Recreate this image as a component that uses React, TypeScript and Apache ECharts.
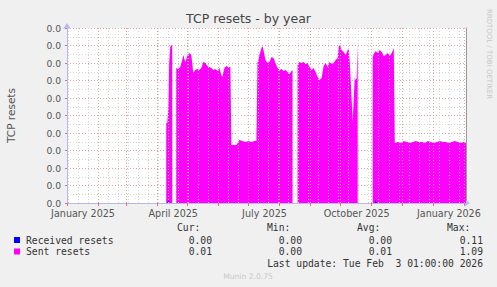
import React, { useEffect, useRef } from "react";
import * as echarts from "echarts";

const START = Date.UTC(2025, 0, 1);
const END = Date.UTC(2026, 1, 3, 1);
const DAY = 86400000;

// Day offsets from 2025-01-01 and values (null = no data)
const sentDays = [
  98, 99, 100, 101, 102, 103, 104, 105, 106,
  109, 111, 113, 115, 116, 118, 120, 122, 124, 126, 128, 130, 132, 134, 136, 138, 140, 142, 144,
  146, 148, 150, 152, 154, 155, 157, 159, 161, 163,
  164, 166, 169, 172, 175, 178, 181, 184, 187, 189,
  190, 191, 192, 194, 195, 196, 198, 200, 202, 204, 206, 208, 210, 212, 214, 216, 218, 220, 222, 224, 225, 226,
  230, 232, 234, 236, 238, 240, 242, 244, 246, 248, 250, 252, 254, 256, 258, 260, 262, 264, 266, 268,
  270, 271, 272, 274, 276, 278, 280, 281, 282, 283, 284, 285, 286, 287, 288, 289, 290, 291,
  305, 306, 308, 310, 312, 314, 316, 318, 320, 322, 324, 326,
  327, 330, 333, 336, 339, 342, 345, 348, 351, 354, 357, 360, 363, 366, 369, 372, 375, 378, 381,
  384, 387, 390, 393, 396, 398,
];
const sentValues = [
  null, 0.00549, 0.00549, 0.00638, 0.00967, 0.0107, 0.01083, 0.01077, null,
  0.00926, 0.00919, 0.00933, 0.00981, 0.01015, 0.00967, 0.01008, 0.01029, 0.01015, 0.00891, 0.00912, 0.00919, 0.00912, 0.00926, 0.00967, 0.0096, 0.00939, 0.00933, 0.00926,
  0.00912, 0.00919, 0.00905, 0.00926, 0.00878, 0.00864, 0.00926, 0.00939, 0.00933, 0.00933,
  0.00398, 0.00398, 0.00398, 0.00432, 0.00425, 0.00418, 0.00425, 0.00418, 0.00425, 0.00425,
  0.0096, 0.00981, 0.01015, 0.01063, 0.01077, 0.01049, 0.00981, 0.0096, 0.00967, 0.01001, 0.00994, 0.0096, 0.00926, 0.00912, 0.00919, 0.00905, 0.00912, 0.00898, 0.00885, 0.00905, 0.00912, null,
  0.00946, 0.00967, 0.0096, 0.00967, 0.00953, 0.0096, 0.00933, 0.00912, 0.00926, 0.00898, 0.00864, 0.00843, 0.00857, 0.00939, 0.0096, 0.00933, 0.00967, 0.00953, 0.0096, 0.00981,
  0.00994, 0.0107, 0.01083, 0.01049, 0.01035, 0.01015, 0.01049, 0.01063, 0.00981, 0.00843, 0.00706, 0.00555, 0.00706, 0.00857, 0.00843, 0.00857, 0.0109, null,
  0.01001, 0.01022, 0.01042, 0.01029, 0.01049, 0.01035, 0.01008, 0.01015, 0.01029, 0.01008, 0.01029, 0.01063,
  0.00411, 0.00418, 0.00411, 0.00425, 0.00418, 0.00411, 0.00418, 0.00425, 0.00418, 0.00418, 0.00411, 0.00425, 0.00418, 0.00411, 0.00418, 0.00425, 0.00418, 0.00418, 0.00411,
  0.00418, 0.00425, 0.00418, 0.00411, 0.00418, 0.00411,
];
const receivedDays = [100, 101, 102, 103, 307, 308, 309];
const receivedValues = [0, 0.0002, 0, null, 0, 0.0002, 0];

const monthNames = [
  "January", "February", "March", "April", "May", "June",
  "July", "August", "September", "October", "November", "December",
];
const labelMonths: [number, number][] = [[2025, 0], [2025, 3], [2025, 6], [2025, 9], [2026, 0]];

const legendHeaders = ["Cur:", "Min:", "Avg:", "Max:"];
const legendRows = [
  { name: "Received resets", color: "#0000ff", vals: ["0.00", "0.00", "0.00", "0.11"] },
  { name: "Sent resets", color: "#ff00ff", vals: ["0.01", "0.00", "0.01", "1.09"] },
];
const lastUpdate = "Last update: Tue Feb  3 01:00:00 2026";

export default function App() {
  const ref = useRef<HTMLDivElement>(null);
  useEffect(() => {
    if (!ref.current) return;
    const chart = echarts.init(ref.current, null, { renderer: "svg" });

    const monthStarts: number[] = [];
    for (let m = 0; m <= 13; m++) monthStarts.push(Date.UTC(2025, m, 1));
    const majorLines = monthStarts.filter((t) => t > START && t <= END);
    const minorLines: number[] = [];
    const startEpochDay = Math.round(START / DAY);
    for (let d = Math.ceil(startEpochDay / 10) * 10; d * DAY <= END; d += 10) {
      const t = d * DAY;
      if (!majorLines.includes(t)) minorLines.push(t);
    }
    const labelValues = labelMonths.map(([y, m]) => Date.UTC(y, m, 17));

    const sentData = sentDays.map((d, i) => [START + d * DAY, sentValues[i]]);
    const recvData = receivedDays.map((d, i) => [START + d * DAY, receivedValues[i]]);

    const font = "DejaVu Sans";
    const mono = "DejaVu Sans Mono";
    const colX = [177, 267, 357, 447];
    const valRight = [212, 302, 392, 483];
    const rowY = [240, 251.5];

    const graphic: any[] = [];
    legendHeaders.forEach((h, i) =>
      graphic.push({
        type: "text", x: colX[i], y: 227,
        style: { text: h, font: `9.7px "${mono}"`, fill: "#333", textAlign: "left", textVerticalAlign: "middle" },
      })
    );
    legendRows.forEach((r, ri) => {
      graphic.push({
        type: "rect", shape: { x: 14, y: rowY[ri] - 3, width: 6, height: 6 },
        style: { fill: r.color },
      });
      graphic.push({
        type: "text", x: 26, y: rowY[ri],
        style: { text: r.name, font: `9.7px "${mono}"`, fill: "#333", textAlign: "left", textVerticalAlign: "middle" },
      });
      r.vals.forEach((v, i) =>
        graphic.push({
          type: "text", x: valRight[i], y: rowY[ri],
          style: { text: v, font: `9.7px "${mono}"`, fill: "#333", textAlign: "right", textVerticalAlign: "middle" },
        })
      );
    });
    graphic.push({
      type: "text", x: 483, y: 263.5,
      style: { text: lastUpdate, font: `9.7px "${mono}"`, fill: "#333", textAlign: "right", textVerticalAlign: "middle" },
    });
    graphic.push({
      type: "text", x: 248, y: 276,
      style: { text: "Munin 2.0.75", font: `7.6px "${font}"`, fill: "#c8c8c8", textAlign: "center", textVerticalAlign: "middle" },
    });
    graphic.push({
      type: "text", x: 489, y: 54, rotation: -Math.PI / 2,
      style: { text: "RRDTOOL / TOBI OETIKER", font: `7px "${font}"`, fill: "#c8c8c8", textAlign: "center", textVerticalAlign: "middle" },
    });

    const gridLine = (color: string) => ({ color, type: [1, 2], width: 1 });

    chart.setOption({
      animation: false,
      backgroundColor: "#f0f0f0",
      title: {
        text: "TCP resets - by year",
        left: "center",
        top: 12,
        padding: 0,
        textStyle: { fontFamily: font, fontSize: 12.5, fontWeight: "normal", color: "#444" },
      },
      grid: {
        left: 67, top: 28, width: 399, height: 175,
        show: true, backgroundColor: "#ffffff", borderWidth: 0,
        containLabel: false, outerBoundsMode: "none",
      },
      xAxis: {
        type: "value",
        min: START,
        max: END,
        axisLine: { show: true, lineStyle: { color: "#b8b8f0" }, symbol: ["none", "arrow"], symbolSize: [6, 6], symbolOffset: [0, 4] },
        axisTick: { show: true, customValues: monthStarts.filter((t) => t >= START && t <= END), length: 3, lineStyle: { color: "#e07070" } },
        axisLabel: {
          customValues: labelValues,
          formatter: (v: number) => {
            const d = new Date(v);
            return `${monthNames[d.getUTCMonth()]} ${d.getUTCFullYear()}`;
          },
          fontFamily: font, fontSize: 9.6, color: "#555", margin: 5,
        },
        splitLine: { show: false },
      },
      yAxis: [
        {
          type: "value",
          min: 0,
          max: 0.012,
          interval: 0.0012,
          name: "TCP resets",
          nameLocation: "middle",
          nameGap: 51,
          nameTextStyle: { fontFamily: font, fontSize: 10.5, color: "#555" },
          axisLine: { show: true, lineStyle: { color: "#b8b8f0" }, symbol: ["none", "arrow"], symbolSize: [6, 6], symbolOffset: [0, 5] },
          axisTick: { show: true, length: 2, lineStyle: { color: "#e07070" } },
          axisLabel: { formatter: (v: number) => v.toFixed(1), fontFamily: font, fontSize: 9.2, color: "#555", margin: 6 },
          splitLine: { show: true, lineStyle: gridLine("#e8a0a0") },
          minorTick: { show: false, splitNumber: 2 },
          minorSplitLine: { show: true, lineStyle: gridLine("#d4d4d4") },
        },
        {
          type: "value",
          position: "right",
          min: 0,
          max: 0.012,
          interval: 0.0012,
          axisLine: { show: true, lineStyle: { color: "#999" } },
          axisTick: { show: false },
          axisLabel: { show: false },
          splitLine: { show: false },
        },
      ],
      series: [
        {
          type: "line",
          data: [],
          z: 1,
          silent: true,
          markLine: {
            silent: true,
            symbol: ["none", "none"],
            label: { show: false },
            lineStyle: gridLine("#d4d4d4"),
            data: minorLines.map((t) => ({ xAxis: t })),
          },
        },
        {
          type: "line",
          data: [],
          z: 1,
          silent: true,
          markLine: {
            silent: true,
            symbol: ["none", "none"],
            label: { show: false },
            lineStyle: gridLine("#e8a0a0"),
            data: majorLines.map((t) => ({ xAxis: t })),
          },
        },
        {
          name: "Sent resets",
          type: "line",
          data: sentData,
          z: 2,
          showSymbol: false,
          lineStyle: { width: 0, color: "#ff00ff" },
          itemStyle: { color: "#ff00ff" },
          areaStyle: { color: "#ff00ff", opacity: 1 },
          silent: true,
        },
        {
          name: "Received resets",
          type: "line",
          data: recvData,
          z: 3,
          showSymbol: false,
          lineStyle: { width: 0, color: "#0000ff" },
          itemStyle: { color: "#0000ff" },
          areaStyle: { color: "#0000ff", opacity: 1 },
          silent: true,
        },
      ],
      graphic,
    });
    return () => chart.dispose();
  }, []);
  return (
    <div
      ref={ref}
      style={{ position: "fixed", left: 0, top: 0, width: 497, height: 287 }}
    />
  );
}
